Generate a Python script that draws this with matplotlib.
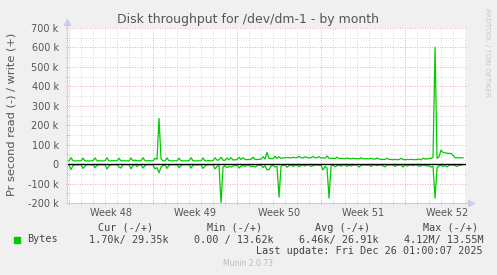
import matplotlib
matplotlib.use("Agg")
import matplotlib.pyplot as plt
from matplotlib.patches import Rectangle
from matplotlib.ticker import MultipleLocator, FixedLocator
import numpy as np

# samples every 4 hours, first one 4h before Monday of week 48
# values in k (bytes per second)
write_lead = [17]
write_days = [
    [17, 33, 17, 16, 17, 17],
    [17, 31, 17, 17, 16, 17],
    [17, 32, 17, 17, 17, 16],
    [17, 33, 16, 17, 18, 17],
    [17, 30, 17, 17, 17, 17],
    [16, 32, 17, 21, 17, 17],
    [17, 33, 17, 17, 18, 17],
    [17, 30, 25, 235, 28, 17],
    [17, 32, 17, 17, 17, 17],
    [17, 31, 17, 17, 17, 17],
    [17, 33, 17, 17, 17, 17],
    [17, 32, 17, 17, 18, 17],
    [18, 33, 20, 22, 35, 20],
    [20, 31, 22, 33, 21, 22],
    [24, 35, 24, 33, 24, 23],
    [24, 25, 36, 24, 24, 25],
    [25, 38, 26, 60, 30, 28],
    [28, 40, 30, 38, 30, 32],
    [32, 34, 33, 32, 35, 33],
    [33, 40, 33, 32, 38, 34],
    [32, 33, 40, 32, 33, 38],
    [31, 33, 30, 42, 30, 30],
    [30, 28, 36, 29, 30, 29],
    [28, 32, 28, 28, 30, 28],
    [28, 27, 33, 28, 27, 28],
    [27, 30, 26, 26, 31, 26],
    [25, 24, 24, 30, 24, 24],
    [23, 24, 23, 23, 30, 23],
    [23, 24, 23, 25, 23, 23],
    [24, 26, 22, 30, 26, 27],
    [28, 30, 35, 600, 30, 38],
    [72, 60, 58, 56, 55, 55],
    [45, 33, 33, 32, 33, 33],
]
read_lead = [3]
read_days = [
    [4, 28, 8, 3, 4, 3],
    [3, 22, 10, 3, 3, 4],
    [3, 18, 6, 3, 3, 3],
    [3, 25, 9, 4, 3, 3],
    [3, 15, 20, 3, 3, 3],
    [3, 24, 7, 3, 12, 3],
    [4, 20, 8, 3, 3, 3],
    [3, 25, 18, 45, 15, 8],
    [4, 22, 6, 3, 3, 3],
    [3, 18, 8, 3, 3, 3],
    [3, 20, 6, 3, 4, 3],
    [3, 22, 10, 4, 3, 3],
    [3, 25, 12, 6, 200, 15],
    [8, 18, 12, 15, 10, 6],
    [5, 20, 10, 8, 12, 5],
    [6, 14, 10, 15, 8, 6],
    [5, 18, 8, 30, 28, 10],
    [6, 15, 12, 170, 10, 6],
    [5, 16, 8, 5, 12, 5],
    [4, 14, 6, 5, 10, 4],
    [5, 12, 8, 5, 5, 6],
    [6, 30, 12, 20, 175, 10],
    [5, 14, 8, 6, 10, 4],
    [4, 12, 6, 10, 5, 4],
    [5, 15, 8, 4, 4, 6],
    [4, 12, 5, 4, 8, 4],
    [5, 10, 14, 4, 5, 4],
    [4, 12, 6, 5, 4, 15],
    [5, 10, 6, 4, 8, 4],
    [4, 12, 8, 5, 6, 10],
    [8, 15, 12, 175, 20, 8],
    [6, 12, 8, 14, 6, 5],
    [4, 8, 12, 6, 5, 3],
]
week_labels = ["Week 48", "Week 49", "Week 50", "Week 51", "Week 52"]
legend_cols = ["Cur (-/+)", "Min (-/+)", "Avg (-/+)", "Max (-/+)"]
legend_vals = ["1.70k/ 29.35k", "0.00 / 13.62k", "6.46k/ 26.91k", "4.12M/ 13.55M"]

write = np.array(write_lead + sum(write_days, []), dtype=float)
read = np.array(read_lead + sum(read_days, []), dtype=float)
t = -1 / 6 + np.arange(len(write)) / 6

W, H = 497, 275
fig = plt.figure(figsize=(W / 100, H / 100), dpi=100, facecolor="#F0F0F0")
ax = fig.add_axes([67 / W, 1 - 203 / H, 399 / W, 175 / H])
ax.set_facecolor("white")

ax.set_xlim(-1 / 6, 33.08)
ax.set_ylim(-200, 700)

ax.yaxis.set_major_locator(MultipleLocator(100))
ax.yaxis.set_minor_locator(MultipleLocator(50))
ax.xaxis.set_major_locator(FixedLocator([0, 7, 14, 21, 28]))
ax.xaxis.set_minor_locator(MultipleLocator(1))
ax.set_xticklabels([])
ax.set_yticks(np.arange(-200, 701, 100))
ax.set_yticklabels([f"{v} k" if v != 0 else "0" for v in range(-200, 701, 100)])

ax.grid(which="minor", color="#CCCCCC", lw=0.6, ls=(0, (1, 2)))
ax.grid(which="major", color="#E89090", lw=0.6, ls=(0, (1, 2)))
ax.set_axisbelow(True)

ax.tick_params(axis="both", which="both", labelsize=7, labelcolor="#555555",
               length=2, width=0.6, direction="inout")
ax.tick_params(axis="x", which="major", color="#E06060")
ax.tick_params(axis="x", which="minor", color="#AAAAAA")
ax.tick_params(axis="y", which="both", color="#AAAAAA", pad=5)

for s in ["top", "right"]:
    ax.spines[s].set_visible(False)
for s in ["left", "bottom"]:
    ax.spines[s].set_color("#CCCCEE")
    ax.spines[s].set_linewidth(0.8)

# axis arrows
ax.plot([0, 0], [1, 1.03], transform=ax.transAxes, color="#CCCCEE", lw=0.8, clip_on=False)
ax.plot([0], [1.035], marker="^", ms=4, color="#CCCCEE", transform=ax.transAxes, clip_on=False)
ax.plot([1, 1.01], [0, 0], transform=ax.transAxes, color="#CCCCEE", lw=0.8, clip_on=False)
ax.plot([1.0125], [0], marker=">", ms=4, color="#CCCCEE", transform=ax.transAxes, clip_on=False)

ax.plot(t, write, color="#00CC00", lw=0.9)
ax.plot(t, -read, color="#00CC00", lw=0.9)
ax.axhline(0, color="black", lw=1)

for i, lab in enumerate(week_labels):
    ax.text(7 * i + 3.5, -0.055, lab, transform=ax.get_xaxis_transform(),
            ha="center", va="center", fontsize=7, color="#555555")

fig.text(248 / W, 1 - 19 / H, "Disk throughput for /dev/dm-1 - by month",
         ha="center", va="center", fontsize=9, color="#555555")
fig.text(12 / W, 1 - 114 / H, "Pr second read (-) / write (+)", rotation=90,
         ha="center", va="center", fontsize=8.2, color="#555555")
fig.text(487 / W, 1 - 52 / H, "RRDTOOL / TOBI OETIKER", rotation=270,
         ha="center", va="center", fontsize=5, color="#C8C8C8")

mono = "DejaVu Sans Mono"
for x0, txt in zip([98, 207, 315, 423], legend_cols):
    fig.text(x0 / W, 1 - 228 / H, txt, ha="left", va="center",
             fontsize=7.3, family=mono, color="#444444")
fig.patches.append(Rectangle((14 / W, 1 - 242.5 / H), 6 / W, 6 / H,
                             transform=fig.transFigure, color="#00CC00"))
fig.text(27 / W, 1 - 239.5 / H, "Bytes", ha="left", va="center",
         fontsize=7.3, family=mono, color="#444444")
for x0, txt in zip([89, 194, 299, 404], legend_vals):
    fig.text(x0 / W, 1 - 239.5 / H, txt, ha="left", va="center",
             fontsize=7.3, family=mono, color="#444444")
fig.text(483 / W, 1 - 251 / H, "Last update: Fri Dec 26 01:00:07 2025",
         ha="right", va="center", fontsize=7.3, family=mono, color="#444444")
fig.text(248 / W, 1 - 264 / H, "Munin 2.0.73", ha="center", va="center",
         fontsize=5.5, color="#BBBBBB")

fig.savefig("out.png", dpi=100, facecolor=fig.get_facecolor())
